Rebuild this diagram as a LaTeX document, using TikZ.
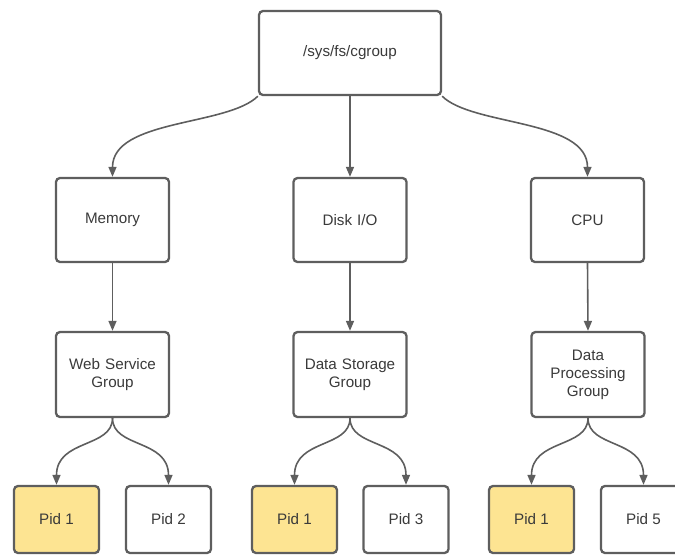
\documentclass[tikz,border=0pt]{standalone}
\usepackage{fontspec}
\setmainfont{Liberation Sans}
\usetikzlibrary{arrows.meta}
\definecolor{edgegray}{HTML}{5E5E5E}
\definecolor{txtgray}{HTML}{3A3A3A}
\definecolor{pidyellow}{HTML}{FDE492}
\tikzset{
  box/.style={draw=edgegray, line width=2.3pt, rounded corners=4pt, fill=white,
    text=txtgray, align=center, inner sep=0pt,
    font=\fontsize{15.2}{18}\selectfont},
  bigbox/.style={box, minimum width=113pt, minimum height=84pt, text width=100pt},
  pidbox/.style={box, minimum width=85pt, minimum height=67pt},
  hot/.style={fill=pidyellow},
  arr/.style={draw=edgegray, line width=1.6pt, -{Triangle[length=10pt,width=8pt]}},
}
\begin{document}
\begin{tikzpicture}[x=1pt,y=-1pt]
\useasboundingbox (0,0) rectangle (675,555);
\clip (0,0) rectangle (675,555);
\node[box, minimum width=182pt, minimum height=84pt] (root) at (350,53) {/sys/fs/cgroup};
\node[bigbox] (mem) at (112.5,220) {Memory};
\node[bigbox] (disk) at (350,220) {Disk I/O};
\node[bigbox] (cpu) at (587.5,220) {CPU};
\node[bigbox, minimum height=85pt] (wsg) at (112.5,374.5) {Web Service\\Group};
\node[bigbox, minimum height=85pt] (dsg) at (350,374.5) {Data Storage\\Group};
\node[bigbox, minimum height=85pt] (dpg) at (588,374.5) {Data\\Processing\\Group};
\node[pidbox, hot] (p1a) at (56.5,519.5) {Pid 1};
\node[pidbox] (p2) at (168.5,519.5) {Pid 2};
\node[pidbox, hot] (p1b) at (294.5,519.5) {Pid 1};
\node[pidbox] (p3) at (406,519.5) {Pid 3};
\node[pidbox, hot] (p1c) at (531.5,519.5) {Pid 1};
\node[pidbox] (p5) at (643.5,519.5) {Pid 5};

\draw[arr] (root.south west) .. controls +(-30,30) and +(0,-58) .. (mem.north);
\draw[arr] (root.south) -- (disk.north);
\draw[arr] (root.south east) .. controls +(30,30) and +(0,-58) .. (cpu.north);

\draw[arr] (mem.south) -- (wsg.north);
\draw[arr] (disk.south) -- (dsg.north);
\draw[arr] (cpu.south) -- (dpg.north);

\draw[arr] (wsg.south) .. controls +(0,30) and +(0,-46) .. (p1a.north);
\draw[arr] (wsg.south) .. controls +(0,30) and +(0,-46) .. (p2.north);
\draw[arr] (dsg.south) .. controls +(0,30) and +(0,-46) .. (p1b.north);
\draw[arr] (dsg.south) .. controls +(0,30) and +(0,-46) .. (p3.north);
\draw[arr] (dpg.south) .. controls +(0,30) and +(0,-46) .. (p1c.north);
\draw[arr] (dpg.south) .. controls +(0,30) and +(0,-46) .. (p5.north);
\end{tikzpicture}
\end{document}
